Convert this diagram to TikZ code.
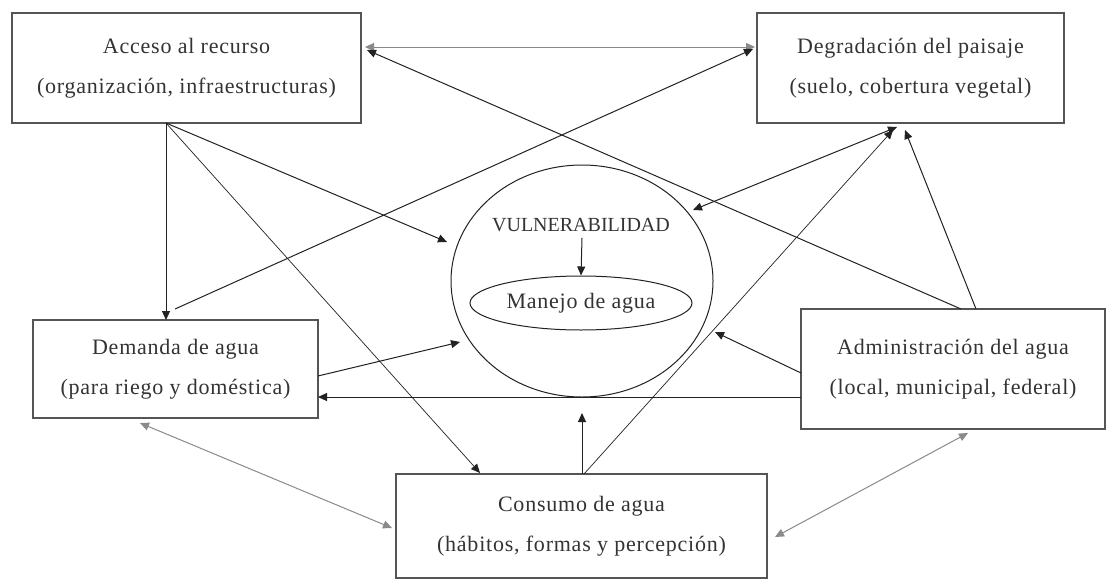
\documentclass[tikz,border=0pt]{standalone}
\usepackage{fontspec}
\setmainfont{Liberation Serif}
\newfontfamily\spacedserif[LetterSpace=3.5]{Liberation Serif}
\usetikzlibrary{arrows.meta,shapes.geometric}
\definecolor{boxc}{HTML}{555555}
\definecolor{arrc}{HTML}{222222}
\definecolor{grayc}{HTML}{8A8A8A}
\definecolor{txtc}{HTML}{333333}
\begin{document}
\begin{tikzpicture}[x=1pt,y=-1pt,
  box/.style={draw=boxc,line width=1.3pt,rectangle,inner sep=0pt,align=center,
    text=txtc,font=\spacedserif\fontsize{22}{40}\selectfont},
  conn/.style={draw=arrc,line width=1pt,-{Triangle[length=9pt,width=8pt]}},
  biconn/.style={draw=arrc,line width=1pt,{Triangle[length=9pt,width=8pt]}-{Triangle[length=9pt,width=8pt]}},
  grayconn/.style={draw=grayc,line width=1pt,{Triangle[length=9pt,width=8pt]}-{Triangle[length=9pt,width=8pt]}},
  thinconn/.style={draw=arrc,line width=0.7pt,-{Triangle[length=9pt,width=8pt]}},
  ring/.style={draw=arrc,line width=1pt,ellipse,inner sep=0pt}]
\useasboundingbox (0,0) rectangle (1108,581);
\fill[white] (0,0) rectangle (1108,581);
% boxes
\node[box,minimum width=349pt,minimum height=110pt] (A) at (186.5,68)
  {Acceso al recurso\\(organización, infraestructuras)};
\node[box,minimum width=307pt,minimum height=110pt] (D) at (910.5,68)
  {Degradación del paisaje\\(suelo, cobertura vegetal)};
\node[box,minimum width=285pt,minimum height=98pt] (Dem) at (175.5,369)
  {Demanda de agua\\(para riego y doméstica)};
\node[box,minimum width=304pt,minimum height=120pt] (Adm) at (953,369)
  {Administración del agua\\(local, municipal, federal)};
\node[box,minimum width=371pt,minimum height=104pt] (Cons) at (581.5,526)
  {Consumo de agua\\(hábitos, formas y percepción)};
% central
\node[ring,minimum width=262pt,minimum height=232pt] (V) at (582,281) {};
\node[text=txtc,font=\fontsize{20}{24}\selectfont,inner sep=0pt] (VT) at (581,225) {VULNERABILIDAD};
\node[ring,minimum width=222pt,minimum height=54pt,text=txtc,font=\spacedserif\fontsize{22}{26}\selectfont] (M) at (581,303) {Manejo de agua};
\draw[conn] ([shift={(1,6)}]VT.south) -- (M.north);
% connectors
\draw[grayconn] ([shift={(178.5,-21)}]A.center) -- ([shift={(-155.5,-21)}]D.center);
\draw[conn] ([shift={(-20.5,55)}]A.center) -- ([shift={(-9.5,-49)}]Dem.center);
\draw[conn] ([shift={(-20.5,55)}]A.center) -- ([shift={(-135,-39)}]V.center);
\draw[thinconn] ([shift={(-20.5,55)}]A.center) -- ([shift={(-101.5,-53)}]Cons.center);
\draw[conn] ([shift={(-0.5,-60)}]Dem.center) -- ([shift={(-157.5,-19)}]D.center);
\draw[conn] ([shift={(8,-60)}]Adm.center) -- ([shift={(180.5,-18)}]A.center);
\draw[conn] ([shift={(23,-60)}]Adm.center) -- ([shift={(-5.5,62)}]D.center);
\draw[thinconn] ([shift={(2.5,-52)}]Cons.center) -- ([shift={(-17.5,62)}]D.center);
\draw[biconn] ([shift={(-13.5,59)}]D.center) -- ([shift={(111,-71)}]V.center);
\draw[conn] ([shift={(142.5,7)}]Dem.center) -- ([shift={(-122,61)}]V.center);
\draw[conn] ([shift={(-152,28)}]Adm.center) -- ([shift={(142.5,28)}]Dem.center);
\draw[conn] ([shift={(-152,4)}]Adm.center) -- ([shift={(133,51)}]V.center);
\draw[conn] ([shift={(0.5,-52)}]Cons.center) -- ([shift={(0,132)}]V.center);
\draw[grayconn] ([shift={(-35.5,54)}]Dem.center) -- ([shift={(-189.5,2)}]Cons.center);
\draw[grayconn] ([shift={(15,64)}]Adm.center) -- ([shift={(193.5,11)}]Cons.center);
\end{tikzpicture}
\end{document}
